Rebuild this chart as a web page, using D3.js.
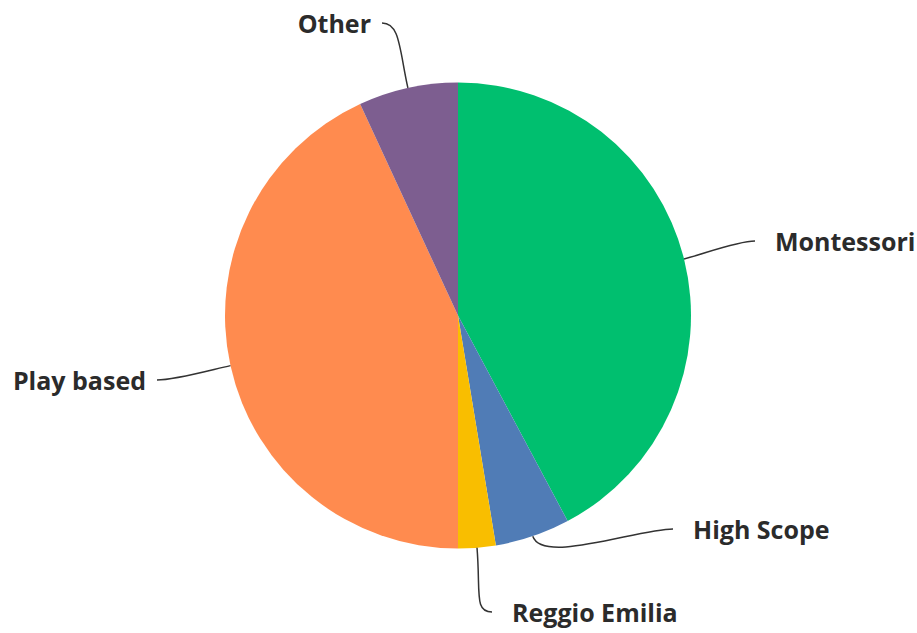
<!DOCTYPE html>
<html><head><meta charset="utf-8">
<script src="https://cdn.jsdelivr.net/npm/d3@7"></script>
<style>
html,body{margin:0;padding:0;background:#fff;}
svg{display:block;}
text{font-family:"Open Sans", Roboto, sans-serif;font-weight:700;fill:#2b2b2b;}
</style></head>
<body>
<svg id="chart" width="917" height="633"></svg>
<script>
// data
const categories = ["Montessori", "High Scope", "Reggio Emilia", "Play based", "Other"];
const values = [42.2, 5.2, 2.6, 43.1, 6.9];
const colors = ["#00BF6F", "#507CB6", "#F9BE00", "#FF8B4F", "#7D5E90"];

// layout (label line end points, side of text)
const labelAnchors = [
  {x: 755, y: 241, side: "right"},
  {x: 673, y: 529, side: "right"},
  {x: 492, y: 612, side: "right"},
  {x: 157, y: 380, side: "left"},
  {x: 382, y: 23,  side: "left"}
];

const cx = 458, cy = 315.5, R = 233;
const svg = d3.select("#chart");
const g = svg.append("g").attr("transform", `translate(${cx},${cy})`);

const pie = d3.pie().sort(null).value(d => d.v);
const arcs = pie(categories.map((c, i) => ({c, v: values[i], i})));
const arc = d3.arc().innerRadius(0).outerRadius(R);

g.selectAll("path.slice").data(arcs).join("path")
  .attr("class", "slice")
  .attr("d", arc)
  .attr("fill", d => colors[d.data.i]);

// leader lines
const lines = svg.append("g");
arcs.forEach(d => {
  const a = (d.startAngle + d.endAngle) / 2;
  const ux = Math.sin(a), uy = -Math.cos(a);
  const p0 = [cx + R * ux, cy + R * uy];
  const an = labelAnchors[d.data.i];
  const L = d.data.i === 1 ? 30 : (d.data.i === 2 ? 45 : (d.data.i === 4 ? 40 : 20));
  const M = d.data.i === 1 ? 35 : 18;
  const p1 = [p0[0] + L * ux, p0[1] + L * uy];
  const dir = an.side === "right" ? -1 : 1;
  const p2 = [an.x + dir * M, an.y];
  const path = d3.path();
  path.moveTo(p0[0], p0[1]);
  path.bezierCurveTo(p1[0], p1[1], p2[0], p2[1], an.x, an.y);
  lines.append("path").attr("d", path.toString())
    .attr("fill", "none").attr("stroke", "#333").attr("stroke-width", 1.5);
  svg.append("text")
    .attr("x", an.side === "right" ? an.x + 20 : an.x - 11)
    .attr("y", an.y + 1)
    .attr("dy", "0.35em")
    .attr("text-anchor", an.side === "right" ? "start" : "end")
    .style("font-size", "25px")
    .text(d.data.c);
});
</script>
</body></html>
